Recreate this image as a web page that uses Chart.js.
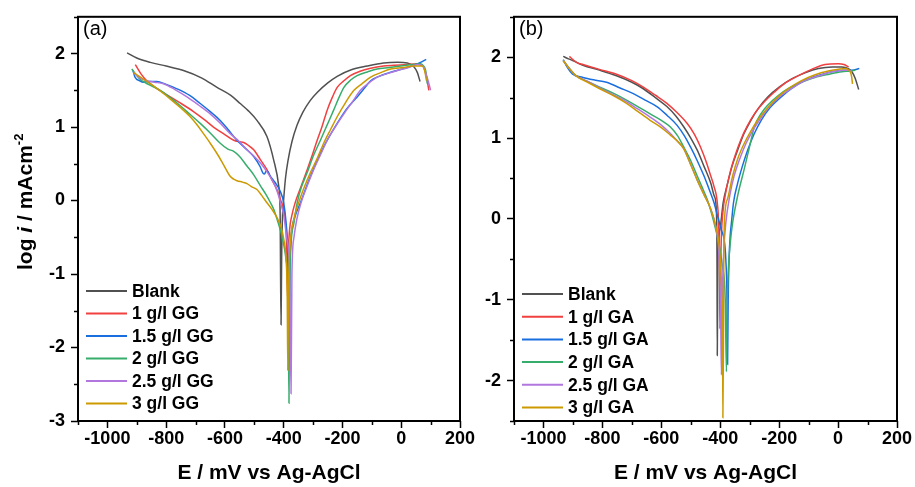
<!DOCTYPE html>
<html>
<head>
<meta charset="utf-8">
<script src="https://cdn.jsdelivr.net/npm/chart.js@4"></script>
<style>
html,body{margin:0;padding:0;background:#fff;}
#wrap{position:relative;width:915px;height:487px;}
canvas{position:absolute;left:0;top:0;}
</style>
</head>
<body>
<div id="wrap">
<canvas id="ca" width="915" height="487"></canvas>
<canvas id="cb" width="915" height="487"></canvas>
</div>
<script>
// legend labels
var labelsA = ['Blank', '1 g/l GG', '1.5 g/l GG', '2 g/l GG', '2.5 g/l GG', '3 g/l GG']
var labelsB = ['Blank', '1 g/l GA', '1.5 g/l GA', '2 g/l GA', '2.5 g/l GA', '3 g/l GA']
var colors = ['#515151', '#F14040', '#1A6FDF', '#37AD6B', '#B177DE', '#CC9900']

// x ticks (mV), y ticks (log i)
var xMin = -1100, xMax = 200
var yRangeA = [-3, 2.5]
var yRangeB = [-2.5, 2.5]

// panel (a)  [E mV, log i]
var aBlank = [[-933,2.01],[-900,1.94],[-854,1.88],[-800,1.83],[-741,1.77],[-680,1.67],[-627,1.54],[-580,1.43],[-548,1.32],[-520,1.22],[-491,1.09],[-457,0.87],[-434,0.55],[-417,0.20],[-412,-0.2],[-411,-0.8],[-409,-1.69],[-407,-0.8],[-404,-0.2],[-401,-0.03],[-394,0.3],[-385,0.55],[-372,0.8],[-355,1.02],[-335,1.2],[-310,1.36],[-286,1.47],[-250,1.6],[-218,1.69],[-170,1.78],[-116,1.83],[-60,1.87],[-13,1.88],[21,1.87],[43,1.82],[55,1.74],[64,1.62]]
var aGG1 = [[-905,1.85],[-885,1.72],[-866,1.63],[-830,1.52],[-786,1.41],[-745,1.31],[-707,1.21],[-670,1.10],[-639,1.00],[-605,0.91],[-570,0.82],[-550,0.80],[-536,0.79],[-520,0.75],[-502,0.69],[-480,0.56],[-457,0.42],[-440,0.28],[-423,0.15],[-410,0.0],[-400,-0.12],[-392,-0.4],[-389,-0.8],[-387,-1.3],[-385,-0.8],[-380,-0.4],[-372,-0.2],[-361,-0.03],[-340,0.2],[-320,0.42],[-300,0.65],[-286,0.82],[-270,1.0],[-252,1.23],[-235,1.40],[-218,1.54],[-195,1.63],[-173,1.70],[-140,1.76],[-104,1.80],[-60,1.83],[-25,1.84],[20,1.85],[55,1.86],[70,1.84],[77,1.81],[85,1.70],[94,1.50]]
var aGG15 = [[-913,1.77],[-906,1.68],[-890,1.63],[-877,1.61],[-855,1.62],[-832,1.62],[-800,1.58],[-763,1.52],[-720,1.43],[-684,1.32],[-650,1.21],[-616,1.09],[-590,0.97],[-559,0.82],[-530,0.71],[-502,0.60],[-480,0.46],[-470,0.37],[-465,0.36],[-460,0.40],[-455,0.40],[-448,0.35],[-440,0.30],[-425,0.22],[-411,0.12],[-400,-0.03],[-392,-0.3],[-385,-0.8],[-381,-1.9],[-378,-0.8],[-372,-0.4],[-360,-0.2],[-343,-0.03],[-309,0.33],[-264,0.73],[-218,1.05],[-185,1.25],[-150,1.41],[-125,1.53],[-104,1.63],[-75,1.69],[-48,1.73],[-15,1.77],[21,1.81],[50,1.85],[66,1.88],[85,1.92]]
var aGG2 = [[-917,1.79],[-889,1.65],[-855,1.57],[-820,1.50],[-786,1.40],[-752,1.29],[-718,1.17],[-684,1.05],[-650,0.92],[-616,0.78],[-590,0.70],[-570,0.67],[-550,0.60],[-525,0.47],[-502,0.35],[-479,0.20],[-460,0.08],[-445,-0.03],[-434,-0.12],[-423,-0.25],[-405,-0.5],[-392,-0.8],[-385,-1.3],[-382,-2.76],[-380,-1.3],[-375,-0.6],[-365,-0.3],[-354,-0.03],[-340,0.18],[-320,0.38],[-300,0.6],[-275,0.82],[-252,1.03],[-230,1.23],[-212,1.40],[-195,1.54],[-172,1.64],[-150,1.70],[-115,1.75],[-82,1.79],[-40,1.81],[-2,1.83],[40,1.85],[66,1.86],[76,1.83],[83,1.77],[89,1.59]]
var aGG25 = [[-911,1.74],[-890,1.67],[-866,1.63],[-840,1.61],[-809,1.59],[-770,1.51],[-729,1.41],[-690,1.30],[-650,1.18],[-615,1.05],[-582,0.91],[-550,0.80],[-525,0.69],[-500,0.60],[-479,0.51],[-455,0.38],[-434,0.24],[-420,0.10],[-411,-0.03],[-400,-0.2],[-390,-0.5],[-380,-1.0],[-375,-2.63],[-372,-1.0],[-365,-0.5],[-355,-0.25],[-341,-0.03],[-320,0.2],[-298,0.42],[-275,0.62],[-252,0.82],[-225,1.0],[-195,1.18],[-165,1.35],[-139,1.50],[-110,1.60],[-82,1.68],[-45,1.73],[-13,1.77],[25,1.81],[55,1.85],[70,1.84],[77,1.81],[90,1.65],[100,1.50]]
var aGG3 = [[-911,1.74],[-880,1.66],[-854,1.59],[-820,1.49],[-786,1.38],[-750,1.26],[-718,1.14],[-695,1.03],[-673,0.91],[-650,0.78],[-627,0.64],[-605,0.49],[-582,0.33],[-570,0.29],[-559,0.27],[-540,0.25],[-525,0.23],[-510,0.19],[-491,0.15],[-475,0.07],[-457,-0.03],[-440,-0.12],[-423,-0.23],[-410,-0.35],[-400,-0.52],[-392,-0.8],[-388,-1.3],[-386,-2.31],[-384,-1.3],[-378,-0.6],[-368,-0.3],[-349,-0.03],[-330,0.18],[-309,0.38],[-285,0.58],[-264,0.78],[-240,0.97],[-218,1.14],[-190,1.33],[-161,1.50],[-130,1.60],[-104,1.68],[-70,1.74],[-36,1.79],[5,1.81],[43,1.83],[72,1.83],[80,1.76],[86,1.63]]

// panel (b)
var bBlank = [[-933,2.01],[-915,1.98],[-901,1.96],[-866,1.90],[-810,1.84],[-752,1.77],[-700,1.69],[-661,1.61],[-620,1.50],[-581,1.39],[-550,1.27],[-524,1.14],[-500,1.00],[-478,0.85],[-455,0.65],[-432,0.44],[-420,0.28],[-413,0.10],[-411,-0.5],[-410,-1.69],[-408,-0.5],[-404,-0.2],[-398,-0.05],[-390,0.2],[-375,0.44],[-360,0.65],[-341,0.85],[-320,1.05],[-296,1.22],[-270,1.37],[-238,1.51],[-200,1.63],[-159,1.73],[-110,1.81],[-67,1.86],[-20,1.88],[13,1.88],[35,1.86],[47,1.82],[58,1.74],[70,1.60]]
var bGA1 = [[-912,2.01],[-900,1.97],[-885,1.93],[-866,1.91],[-810,1.85],[-752,1.79],[-700,1.71],[-661,1.63],[-620,1.53],[-581,1.43],[-545,1.31],[-512,1.18],[-488,1.05],[-467,0.89],[-448,0.71],[-432,0.53],[-421,0.40],[-410,0.20],[-405,-0.1],[-402,-0.7],[-401,-1.36],[-399,-0.7],[-396,-0.2],[-392,0.05],[-380,0.35],[-364,0.61],[-348,0.80],[-330,0.98],[-308,1.15],[-284,1.30],[-250,1.45],[-216,1.57],[-180,1.68],[-136,1.77],[-90,1.85],[-44,1.91],[1,1.92],[20,1.91],[36,1.88]]
var bGA15 = [[-933,1.97],[-920,1.88],[-901,1.79],[-866,1.75],[-830,1.72],[-786,1.69],[-740,1.62],[-695,1.55],[-655,1.47],[-615,1.39],[-580,1.28],[-547,1.16],[-522,1.03],[-501,0.89],[-478,0.72],[-455,0.53],[-437,0.36],[-421,0.20],[-408,0.02],[-395,-0.15],[-387,-0.25],[-381,-0.5],[-377,-1.0],[-375,-1.80],[-373,-1.0],[-370,-0.5],[-366,-0.2],[-362,-0.05],[-355,0.2],[-341,0.44],[-325,0.65],[-307,0.85],[-285,1.05],[-261,1.22],[-230,1.38],[-193,1.51],[-155,1.62],[-113,1.71],[-70,1.77],[-21,1.82],[20,1.84],[47,1.84],[72,1.86]]
var bGA2 = [[-933,1.96],[-910,1.85],[-889,1.77],[-850,1.70],[-809,1.63],[-760,1.55],[-718,1.47],[-680,1.39],[-638,1.30],[-600,1.22],[-570,1.14],[-545,1.03],[-524,0.89],[-500,0.72],[-478,0.53],[-460,0.38],[-444,0.24],[-432,0.10],[-421,-0.05],[-405,-0.3],[-392,-0.6],[-383,-1.0],[-379,-1.89],[-376,-1.0],[-372,-0.6],[-366,-0.3],[-358,-0.05],[-340,0.3],[-319,0.61],[-300,0.9],[-284,1.14],[-262,1.30],[-238,1.41],[-205,1.52],[-170,1.61],[-125,1.69],[-79,1.75],[-30,1.79],[13,1.82],[40,1.83],[58,1.84]]
var bGA25 = [[-933,1.96],[-910,1.85],[-889,1.77],[-850,1.70],[-809,1.62],[-760,1.53],[-718,1.45],[-680,1.36],[-638,1.26],[-600,1.16],[-570,1.06],[-545,0.96],[-524,0.87],[-500,0.67],[-478,0.48],[-455,0.30],[-432,0.12],[-415,-0.1],[-405,-0.4],[-399,-1.0],[-396,-1.93],[-393,-1.0],[-388,-0.4],[-381,-0.05],[-367,0.3],[-353,0.53],[-333,0.75],[-313,0.93],[-290,1.09],[-267,1.22],[-235,1.38],[-199,1.51],[-155,1.62],[-113,1.71],[-65,1.77],[-21,1.82],[15,1.84],[36,1.84],[47,1.82]]
var bGA3 = [[-933,1.96],[-910,1.85],[-889,1.77],[-850,1.69],[-809,1.61],[-760,1.52],[-718,1.43],[-680,1.33],[-638,1.22],[-600,1.13],[-570,1.04],[-545,0.96],[-524,0.87],[-500,0.67],[-478,0.48],[-455,0.30],[-432,0.12],[-415,-0.1],[-402,-0.4],[-395,-0.9],[-392,-1.5],[-391,-2.46],[-389,-1.5],[-388,-0.6],[-386,-0.05],[-375,0.25],[-358,0.53],[-340,0.75],[-319,0.93],[-297,1.08],[-273,1.22],[-240,1.37],[-204,1.51],[-165,1.62],[-124,1.71],[-80,1.78],[-33,1.83],[0,1.85],[24,1.86],[41,1.82],[46,1.76],[49,1.67]]

var FONT = '"Liberation Sans", Arial, Helvetica, sans-serif'

function toPts(arr){
	return arr.map(function(p){ return {x:p[0], y:p[1]} })
}

function makeDatasets(series, labels){
	return series.map(function(s, i){
		return {
			label: labels[i],
			data: toPts(s),
			borderColor: colors[i],
			backgroundColor: colors[i],
			borderWidth: 1.5,
			pointRadius: 0,
			fill: false,
			cubicInterpolationMode: 'monotone',
			order: series.length - i
		}
	})
}

// frame, minor ticks, panel letter, legend, y title
var decor = {
	id: 'decor',
	afterDraw: function(chart, args, opts){
		var ctx = chart.ctx, a = chart.chartArea
		var xs = chart.scales.x, ys = chart.scales.y
		ctx.save()
		ctx.strokeStyle = '#000'
		ctx.lineWidth = 1.5
		xs.ticks.forEach(function(t){
			if (t.value % 200 !== 0) {
				var px = Math.round(xs.getPixelForValue(t.value)) + 0.5
				ctx.beginPath(); ctx.moveTo(px, a.bottom); ctx.lineTo(px, a.bottom + 4); ctx.stroke()
			}
		})
		ys.ticks.forEach(function(t){
			if (!Number.isInteger(t.value)) {
				var py = Math.round(ys.getPixelForValue(t.value)) + 0.5
				ctx.beginPath(); ctx.moveTo(a.left, py); ctx.lineTo(a.left - 4, py); ctx.stroke()
			}
		})
		ctx.lineWidth = 2
		ctx.strokeRect(a.left, a.top, a.right - a.left, a.bottom - a.top)

		ctx.fillStyle = '#000'
		ctx.font = '20px ' + FONT
		ctx.textAlign = 'left'
		ctx.textBaseline = 'alphabetic'
		ctx.fillText(opts.letter, a.left + 5, 35)

		// legend
		var lx = a.left + 8
		chart.data.datasets.forEach(function(ds, i){
			var y = opts.legendY + i * opts.legendStep
			ctx.strokeStyle = ds.borderColor
			ctx.lineWidth = 2
			ctx.beginPath(); ctx.moveTo(lx, y); ctx.lineTo(lx + 41, y); ctx.stroke()
			ctx.fillStyle = '#000'
			ctx.font = 'bold 17.5px ' + FONT
			ctx.textBaseline = 'middle'
			ctx.fillText(ds.label, lx + 46, y + 1)
		})

		if (opts.yTitle) {
			ctx.translate(32, 270)
			ctx.rotate(-Math.PI / 2)
			ctx.fillStyle = '#000'
			ctx.textBaseline = 'alphabetic'
			var x = 0
			var part = function(txt, font, dy){
				ctx.font = font
				ctx.fillText(txt, x, dy || 0)
				x += ctx.measureText(txt).width
			}
			part('log ', 'bold 21px ' + FONT)
			part('i', 'italic bold 21px ' + FONT)
			part(' / mAcm', 'bold 21px ' + FONT)
			part('-2', 'bold 13px ' + FONT, -9)
		}
		ctx.restore()
	}
}

function makeOptions(yRange, yWidth, pad, letter, legendY, legendStep, yTitle){
	return {
		responsive: false,
		animation: false,
		devicePixelRatio: 1,
		layout: { padding: pad },
		plugins: {
			legend: { display: false },
			tooltip: { enabled: false },
			decor: { letter: letter, legendY: legendY, legendStep: legendStep, yTitle: yTitle }
		},
		scales: {
			x: {
				type: 'linear',
				min: xMin,
				max: xMax,
				afterFit: function(s){ s.height = 66 },
				border: { display: false },
				grid: {
					drawOnChartArea: false,
					drawTicks: true,
					tickLength: 7,
					tickWidth: 1.5,
					tickColor: function(c){ return c.tick && c.tick.value % 200 === 0 ? '#000' : 'rgba(0,0,0,0)' }
				},
				ticks: {
					stepSize: 100,
					maxTicksLimit: 100,
					autoSkip: false,
					maxRotation: 0,
					padding: 0,
					color: '#000',
					font: { family: FONT, size: 18, weight: 'bold' },
					callback: function(v){ return v % 200 === 0 ? String(v) : '' }
				},
				title: {
					display: true,
					text: 'E / mV vs Ag-AgCl',
					color: '#000',
					font: { family: FONT, size: 21, weight: 'bold' },
					padding: { top: 0, bottom: 1 }
				}
			},
			y: {
				type: 'linear',
				min: yRange[0],
				max: yRange[1],
				afterFit: function(s){ s.width = yWidth },
				border: { display: false },
				grid: {
					drawOnChartArea: false,
					drawTicks: true,
					tickLength: 7,
					tickWidth: 1.5,
					tickColor: function(c){ return c.tick && Number.isInteger(c.tick.value) ? '#000' : 'rgba(0,0,0,0)' }
				},
				ticks: {
					stepSize: 0.5,
					maxTicksLimit: 100,
					autoSkip: false,
					padding: 6,
					color: '#000',
					font: { family: FONT, size: 18, weight: 'bold' },
					callback: function(v){ return Number.isInteger(v) ? String(v) : '' }
				}
			}
		}
	}
}

new Chart(document.getElementById('ca'), {
	type: 'line',
	data: { datasets: makeDatasets([aBlank, aGG1, aGG15, aGG2, aGG25, aGG3], labelsA) },
	options: makeOptions(yRangeA, 78, {left: 0, right: 455, top: 13, bottom: 0}, '(a)', 291, 22.5, true),
	plugins: [decor]
})

new Chart(document.getElementById('cb'), {
	type: 'line',
	data: { datasets: makeDatasets([bBlank, bGA1, bGA15, bGA2, bGA25, bGA3], labelsB) },
	options: makeOptions(yRangeB, 54, {left: 460, right: 18, top: 13, bottom: 0}, '(b)', 294, 22.7, false),
	plugins: [decor]
})
</script>
</body>
</html>
